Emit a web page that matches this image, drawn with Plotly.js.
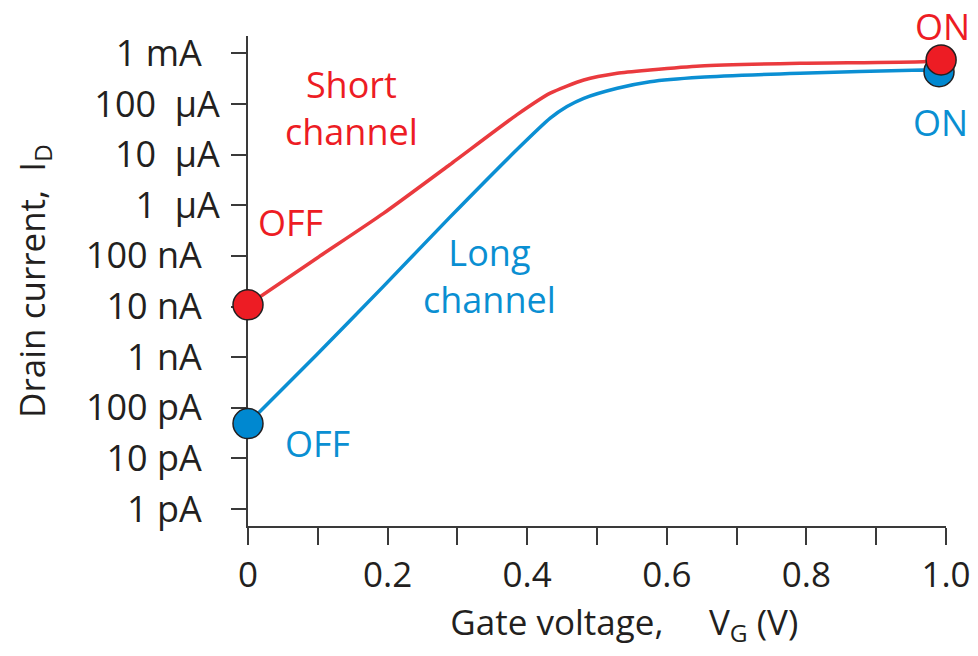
<!DOCTYPE html>
<html><head><meta charset="utf-8">
<script src="https://cdn.plot.ly/plotly-3.0.1.min.js"></script>
<style>html,body{margin:0;padding:0;background:#fff}#chart{width:978px;height:656px}</style>
</head><body><div id="chart"></div>
<script>
// Gate voltage (V) and drain current (A)
const shortX = [0, 0.098, 0.194, 0.289, 0.385, 0.433, 0.481, 0.529, 0.576, 0.648, 0.791, 0.967, 0.993];
const shortI = [1.08e-8, 8.9e-8, 6.9e-7, 6.3e-6, 6.07e-5, 1.63e-4, 2.97e-4, 4.04e-4, 4.69e-4, 5.62e-4, 6.35e-4, 6.82e-4, 7.38e-4];
const longX = [0, 0.098, 0.194, 0.289, 0.385, 0.433, 0.457, 0.481, 0.529, 0.576, 0.648, 0.791, 0.967, 0.988];
const longI = [4.88e-11, 1.1e-9, 2.5e-8, 5.75e-7, 1.24e-5, 5.22e-5, 8.85e-5, 1.29e-4, 2.04e-4, 2.75e-4, 3.37e-4, 4.04e-4, 4.69e-4, 4.6e-4];
// OFF / ON states
const shortStateX = [0, 0.993];
const shortStateI = [1.08e-8, 7.38e-4];
const longStateX = [0, 0.990];
const longStateI = [4.88e-11, 4.34e-4];
// Axis ticks
const yTickVals = [1e-12, 1e-11, 1e-10, 1e-9, 1e-8, 1e-7, 1e-6, 1e-5, 1e-4, 1e-3];
const yTickText = ['1 pA\u2002', '10 pA\u2002', '100 pA\u2002', '1 nA\u2002', '10 nA\u2002', '100 nA\u2002',
                   '1\u00a0\u00a0\u00b5A', '10\u00a0\u00a0\u00b5A', '100\u00a0\u00a0\u00b5A', '1 mA\u2002'];
const xTickVals = [0, 0.2, 0.4, 0.6, 0.8, 1.0];
const xTickText = ['0', '0.2', '0.4', '0.6', '0.8', '1.0'];

const RED = '#ed1c24', BLUE = '#0a8fd2', REDLINE = '#ea3a3e', BLUELINE = '#0b8fd3';
const FONT = '"Open Sans", "Noto Sans", sans-serif';
const INK = '#231f20';
const AX = '#3a3a3a';

const traces = [
  {x: longX, y: longI, mode: 'lines', line: {color: BLUELINE, width: 3.5, shape: 'spline', smoothing: 0.6}, hoverinfo: 'skip'},
  {x: shortX, y: shortI, mode: 'lines', line: {color: REDLINE, width: 3.5, shape: 'spline', smoothing: 0.6}, hoverinfo: 'skip'},
  {x: longStateX, y: longStateI, mode: 'markers', cliponaxis: false,
   marker: {size: 30, color: '#0088d0', line: {color: INK, width: 1.5}}},
  {x: shortStateX, y: shortStateI, mode: 'markers', cliponaxis: false,
   marker: {size: 30, color: RED, line: {color: INK, width: 1.5}}}
];

function ann(text, x, y, color, yanchor) {
  return {text: text, xref: 'paper', yref: 'paper', x: x, y: y, xanchor: 'center', yanchor: yanchor || 'middle',
          showarrow: false, font: {family: FONT, size: 36, color: color}, align: 'center'};
}

const layout = {
  width: 978, height: 656,
  margin: {l: 248, r: 32, t: 36, b: 130},
  paper_bgcolor: '#ffffff', plot_bgcolor: '#ffffff',
  showlegend: false,
  font: {family: FONT, color: INK},
  xaxis: {
    range: [0, 1.0], tickvals: xTickVals, ticktext: xTickText,
    ticks: 'outside', ticklen: 17, tickwidth: 2, tickcolor: AX,
    minor: {dtick: 0.1, tick0: 0, ticks: 'outside', ticklen: 17, tickwidth: 2, tickcolor: AX, showgrid: false},
    showline: true, linecolor: AX, linewidth: 2, showgrid: false, zeroline: false,
    tickfont: {family: FONT, size: 35, color: INK}, layer: 'below traces',
    title: {text: '\u200b\u00a0\u00a0\u00a0\u00a0\u00a0\u00a0Gate voltage,\u00a0\u00a0\u00a0\u00a0\u00a0V<sub>G</sub> (V)', font: {family: FONT, size: 35, color: INK}, standoff: 14}
  },
  yaxis: {
    type: 'log', range: [-12.333, -2.659], tickvals: yTickVals, ticktext: yTickText,
    ticks: 'outside', ticklen: 15, tickwidth: 2, tickcolor: AX,
    showline: true, linecolor: AX, linewidth: 2, showgrid: false, zeroline: false,
    tickfont: {family: FONT, size: 36, color: INK}, ticklabelstandoff: 4, layer: 'below traces',
    title: {text: 'Drain current,\u00a0\u00a0I<sub>D</sub>', font: {family: FONT, size: 35, color: INK}, standoff: 30}
  },
  annotations: [
    ann('Short<br>channel', 0.1476, 0.853, RED),
    ann('OFF', 0.0609, 0.620, RED),
    ann('Long<br>channel', 0.3467, 0.510, BLUE),
    ann('OFF', 0.0996, 0.169, BLUE),
    ann('ON', 0.9943, 1.0735, RED, 'top'),
    ann('ON', 0.992, 0.823, BLUE)
  ]
};

Plotly.newPlot('chart', traces, layout, {displayModeBar: false, staticPlot: true});
</script>
</body></html>
